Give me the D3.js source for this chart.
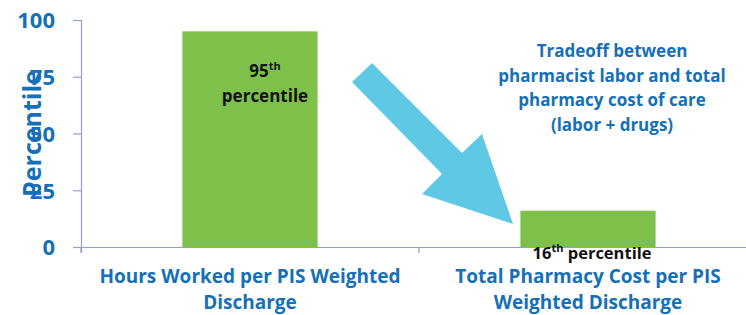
<!DOCTYPE html>
<html>
<head>
<meta charset="utf-8">
<script src="https://cdn.jsdelivr.net/npm/d3@7"></script>
<style>
  html, body { margin: 0; padding: 0; background: #fff; }
  text { font-family: "Open Sans", Lato, sans-serif; font-weight: bold; }
</style>
</head>
<body>
<div id="chart"></div>
<script>
const categories = [
  ['Hours Worked per PIS Weighted', 'Discharge'],
  ['Total Pharmacy Cost per PIS', 'Weighted Discharge']
];
const percentiles = [95, 16];
const yTicks = [0, 25, 50, 75, 100];
const barLabels = ['95', '16'];
const noteLines = ['Tradeoff between', 'pharmacist labor and total', 'pharmacy cost of care', '(labor + drugs)'];

const WIDTH = 746;
const HEIGHT = 315;
const MARGIN = { left: 81, right: -11, top: 20, bottom: 68 };

const COLOR_BLUE = '#1570b8';
const COLOR_GREEN = '#7dc14b';
const COLOR_AXIS = '#8ea2cf';
const COLOR_ARROW = '#5ec8e5';
const FONT = '"Open Sans", Lato, sans-serif';

const svg = d3.select('#chart').append('svg')
  .attr('width', WIDTH)
  .attr('height', HEIGHT);

const x = d3.scaleBand()
  .domain(d3.range(categories.length))
  .range([MARGIN.left, WIDTH - MARGIN.right])
  .padding(0);

const y = d3.scaleLinear()
  .domain([0, 100])
  .range([HEIGHT - MARGIN.bottom, MARGIN.top]);

const barW = x.bandwidth() * 0.4;

// bars
svg.selectAll('rect.bar')
  .data(percentiles)
  .enter().append('rect')
  .attr('class', 'bar')
  .attr('x', (d, i) => x(i) + (x.bandwidth() - barW) / 2)
  .attr('y', d => y(d))
  .attr('width', barW)
  .attr('height', d => y(0) - y(d))
  .attr('fill', COLOR_GREEN);

// y axis
const yAxis = svg.append('g')
  .attr('transform', `translate(${MARGIN.left},0)`)
  .call(d3.axisLeft(y).tickValues(yTicks).tickSize(8).tickPadding(18));
yAxis.select('.domain').attr('stroke', COLOR_AXIS).attr('stroke-width', 1.2);
yAxis.selectAll('.tick line').attr('stroke', COLOR_AXIS).attr('stroke-width', 1.2);
yAxis.selectAll('.tick text')
  .attr('fill', COLOR_BLUE)
  .attr('dy', '0.36em')
  .style('font-size', '22px')
  .style('font-family', FONT)
  .style('font-weight', 'bold');

// x axis
const xAxis = svg.append('g')
  .attr('transform', `translate(0,${y(0)})`)
  .call(d3.axisBottom(x).tickFormat('').tickSize(6));
xAxis.select('.domain').attr('stroke', COLOR_AXIS).attr('stroke-width', 1.2);
xAxis.selectAll('.tick').remove();
// category separators
svg.selectAll('line.sep')
  .data(d3.range(categories.length + 1))
  .enter().append('line')
  .attr('class', 'sep')
  .attr('x1', i => MARGIN.left + i * x.step())
  .attr('x2', i => MARGIN.left + i * x.step())
  .attr('y1', y(0))
  .attr('y2', y(0) + 6)
  .attr('stroke', COLOR_AXIS)
  .attr('stroke-width', 1.2);

// category labels
categories.forEach((lines, i) => {
  const t = svg.append('text')
    .attr('text-anchor', 'middle')
    .attr('fill', COLOR_BLUE)
    .style('font-size', '19px');
  lines.forEach((ln, k) => {
    t.append('tspan')
      .attr('x', x(i) + x.bandwidth() / 2)
      .attr('y', 283 + k * 26)
      .text(ln);
  });
});

// y axis title
svg.append('text')
  .attr('transform', `translate(41,${y(50)}) rotate(-90)`)
  .attr('text-anchor', 'middle')
  .attr('fill', COLOR_BLUE)
  .style('font-size', '25px')
  .text('Percentile');

// bar labels
const cx0 = x(0) + x.bandwidth() / 2;
const t95 = svg.append('text')
  .attr('text-anchor', 'middle')
  .attr('fill', '#111')
  .style('font-size', '17px');
t95.append('tspan').attr('x', cx0 + 15).attr('y', 77).text(barLabels[0])
  .append('tspan').attr('dy', -7).style('font-size', '11px').text('th');
svg.append('text')
  .attr('x', cx0 + 15).attr('y', 102)
  .attr('text-anchor', 'middle')
  .attr('fill', '#111')
  .style('font-size', '17px')
  .text('percentile');

const cx1 = x(1) + x.bandwidth() / 2;
const t16 = svg.append('text')
  .attr('x', cx1 + 4).attr('y', 259)
  .attr('text-anchor', 'middle')
  .attr('fill', '#111')
  .style('font-size', '16.5px');
t16.append('tspan').text(barLabels[1]);
t16.append('tspan').attr('dy', -7).style('font-size', '11px').text('th');
t16.append('tspan').attr('dy', 7).text(' percentile');

// annotation note
const note = svg.append('text')
  .attr('text-anchor', 'middle')
  .attr('fill', COLOR_BLUE)
  .style('font-size', '17px');
noteLines.forEach((ln, k) => {
  note.append('tspan').attr('x', 612).attr('y', 57 + k * 24.5).text(ln);
});

// arrow
const arrowPts = [[372, 63], [462, 153], [482, 134], [513, 224], [422, 194], [442, 174], [352, 82]];
svg.append('path')
  .attr('d', d3.line()(arrowPts) + 'Z')
  .attr('fill', COLOR_ARROW);
</script>
</body>
</html>
